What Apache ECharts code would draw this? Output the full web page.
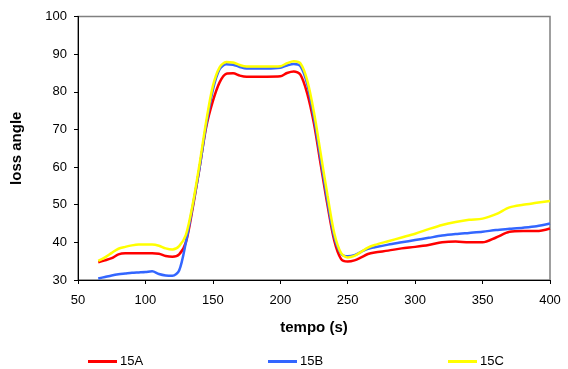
<!DOCTYPE html>
<html>
<head>
<meta charset="utf-8">
<script src="https://cdn.jsdelivr.net/npm/echarts@6/dist/echarts.min.js"></script>
<style>
  html, body { margin: 0; padding: 0; background: #fff; }
  #chart { width: 568px; height: 369px; }
</style>
</head>
<body>
<div id="chart"></div>
<script>
// Sample times (s)
const tempo = [65,70,75,80,85,90,95,100,105,110,115,120,125,130,135,140,145,150,155,160,165,170,175,180,190,200,205,210,215,220,225,230,235,240,245,250,255,260,265,270,280,290,300,310,320,330,340,350,360,370,380,390,400];

// Loss angle for each sample
const s15A = [34.7,35.2,35.8,36.8,37.1,37.1,37.1,37.1,37.1,37.0,36.4,36.2,36.8,40.0,49.0,59.5,70.5,77.5,82.5,84.8,84.9,84.3,84.0,84.0,84.0,84.1,85.0,85.4,84.5,79.5,71.5,60.6,49.9,40.5,35.6,34.9,35.2,36.0,36.9,37.3,37.8,38.4,38.8,39.3,40.0,40.2,40.0,40.0,41.3,42.8,43.0,43.0,43.7];
const s15B = [30.4,30.8,31.2,31.5,31.7,31.9,32.0,32.1,32.3,31.6,31.2,31.1,32.5,40.0,49.5,59.5,71.0,80.5,86.0,87.3,87.2,86.6,86.2,86.2,86.2,86.4,87.0,87.4,86.8,82.0,73.0,62.0,51.0,41.5,37.0,36.3,36.6,37.5,38.3,38.7,39.4,40.0,40.6,41.2,41.8,42.2,42.5,42.8,43.3,43.6,43.9,44.3,45.0];
const s15C = [35.1,36.0,37.2,38.3,38.8,39.2,39.4,39.4,39.4,39.1,38.4,38.1,39.0,42.0,50.0,60.5,72.0,81.5,86.5,87.9,87.8,87.1,86.7,86.7,86.7,86.8,87.6,88.1,87.5,83.0,74.5,63.5,52.5,42.5,37.2,36.0,36.4,37.5,38.6,39.3,40.3,41.3,42.3,43.5,44.6,45.4,46.0,46.3,47.5,49.3,50.0,50.5,51.0];

const seriesNames = ['15A', '15B', '15C'];
const seriesColors = ['#ff0000', '#3366ff', '#ffff00'];
const seriesData = [s15A, s15B, s15C];

const FONT = 'Liberation Sans, Arial, sans-serif';

const chart = echarts.init(document.getElementById('chart'), null, { renderer: 'canvas' });

const legendLefts = [83, 263, 443];

chart.setOption({
  animation: false,
  backgroundColor: '#ffffff',
  textStyle: { fontFamily: FONT, color: '#000' },
  grid: {
    left: 78, right: 18, top: 16.5, bottom: 89,
    show: true, borderColor: '#808080', borderWidth: 1.5, backgroundColor: 'transparent'
  },
  legend: seriesNames.map((n, i) => ({
    data: [n],
    left: legendLefts[i],
    top: 350,
    icon: 'rect',
    itemWidth: 29,
    itemHeight: 3,
    itemGap: 0,
    textStyle: { fontFamily: FONT, fontSize: 13, color: '#000', padding: [0, 0, 0, -2] }
  })),
  xAxis: {
    type: 'value',
    min: 50, max: 400, interval: 50,
    name: 'tempo (s)',
    nameLocation: 'middle',
    nameGap: 40,
    nameTextStyle: { fontFamily: FONT, fontSize: 15, fontWeight: 'bold', color: '#000' },
    axisLine: { show: true, lineStyle: { color: '#000', width: 1 } },
    axisTick: { show: true, inside: false, length: 4, lineStyle: { color: '#000' } },
    axisLabel: { fontFamily: FONT, fontSize: 13, color: '#000', margin: 14 },
    splitLine: { show: false }
  },
  yAxis: {
    type: 'value',
    min: 30, max: 100, interval: 10,
    name: 'loss angle',
    nameLocation: 'middle',
    nameGap: 54,
    nameRotate: 90,
    nameTextStyle: { fontFamily: FONT, fontSize: 15, fontWeight: 'bold', color: '#000' },
    axisLine: { show: true, lineStyle: { color: '#000', width: 1 } },
    axisTick: { show: true, inside: false, length: 4, lineStyle: { color: '#000' } },
    axisLabel: { fontFamily: FONT, fontSize: 13, color: '#000', margin: 11 },
    splitLine: { show: false }
  },
  series: seriesNames.map((n, i) => ({
    name: n,
    type: 'line',
    data: tempo.map((t, k) => [t, seriesData[i][k]]),
    smooth: 0.3,
    symbol: 'none',
    lineStyle: { color: seriesColors[i], width: 2.5 },
    itemStyle: { color: seriesColors[i] },
    z: 2 + i
  }))
});
</script>
</body>
</html>
